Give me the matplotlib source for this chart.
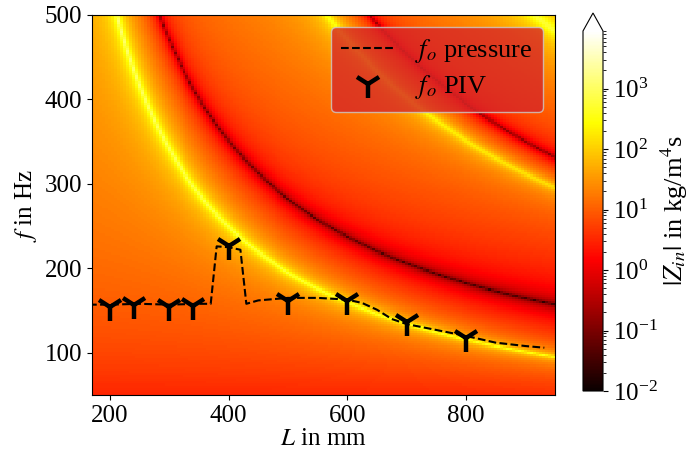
import numpy as np
import matplotlib
matplotlib.use('Agg')
import matplotlib.pyplot as plt
from matplotlib.colors import LogNorm

plt.rcParams['font.family'] = 'serif'
plt.rcParams['font.serif'] = ['Liberation Serif', 'DejaVu Serif']
plt.rcParams['mathtext.fontset'] = 'stix'
plt.rcParams['font.size'] = 18

# f_o from the pressure measurements
L_pressure = [165, 200, 250, 300, 350, 370, 380, 400, 420, 430, 450, 500, 550,
              600, 625, 650, 675, 700, 750, 800, 850, 900, 932]
f_pressure = [157, 157, 158, 157, 158, 158, 226, 225, 222, 158, 162, 165, 165,
              163, 159, 151, 140, 134, 127, 120, 112, 108, 106]

# f_o from PIV
L_piv = [200, 240, 300, 340, 400, 500, 600, 700, 800]
f_piv = [154, 156, 154, 155, 227, 161, 161, 137, 118]

# curves of |Z_in|, f = a / (L + d) + b
pole_a = [100850, 277750, 449500]   # maxima (yellow)
pole_d = [-15.3, -9.5, -15.0]
pole_b = [-12.8, 0.0, 0.0]
zero_a = [121540, 307000]           # minima (black)
zero_d = [-26.9, -23.5]
zero_b = [25.5, 0.0]

L_grid = np.arange(170, 952.5, 5.0)
f_grid = np.arange(50, 502.5, 2.5)

LL, FF = np.meshgrid(L_grid, f_grid)
Z = 0.06 * FF
for a, d, b in zip(pole_a, pole_d, pole_b):
    p = a / (LL + d) + b
    Z = Z / np.abs(1 - (FF / p)**2 + 0.012j * FF / p)
for a, d, b in zip(zero_a, zero_d, zero_b):
    z = a / (LL + d) + b
    Z = Z * np.abs(1 - (FF / z)**2 + 0.003j * FF / z)

fig = plt.figure(figsize=(6.94, 4.58), dpi=100)
ax = fig.add_axes([92/694, 63/458, 463/694, 380/458])
cax = fig.add_axes([583/694, 67/458, 20/694, 378/458])

mesh = ax.pcolormesh(L_grid, f_grid, Z, cmap='hot', norm=LogNorm(vmin=1e-2, vmax=9e3),
                     shading='auto', rasterized=True)
ax.plot(L_pressure, f_pressure, 'k--', lw=1.5, label=r'$f_o$ pressure')
ax.plot(L_piv, f_piv, 'k1', ms=20, mew=3.2, ls='none', label=r'$f_o$ PIV')

ax.set_xlim(170, 950)
ax.set_ylim(50, 500)
ax.set_xticks([200, 400, 600, 800])
ax.set_yticks([100, 200, 300, 400, 500])
ax.set_xlabel(r'$L$ in mm', labelpad=1)
ax.set_ylabel(r'$f$ in Hz', labelpad=4)

leg = ax.legend(loc='upper right', facecolor='tab:red', framealpha=0.8,
                fontsize=19, labelspacing=0.3, borderaxespad=0.45)

cb = fig.colorbar(mesh, cax=cax, extend='max')
cb.set_label(r'$|Z_{in}|$ in kg/m$^4$s', fontsize=19, labelpad=1)

fig.savefig('out.png', dpi=100)
